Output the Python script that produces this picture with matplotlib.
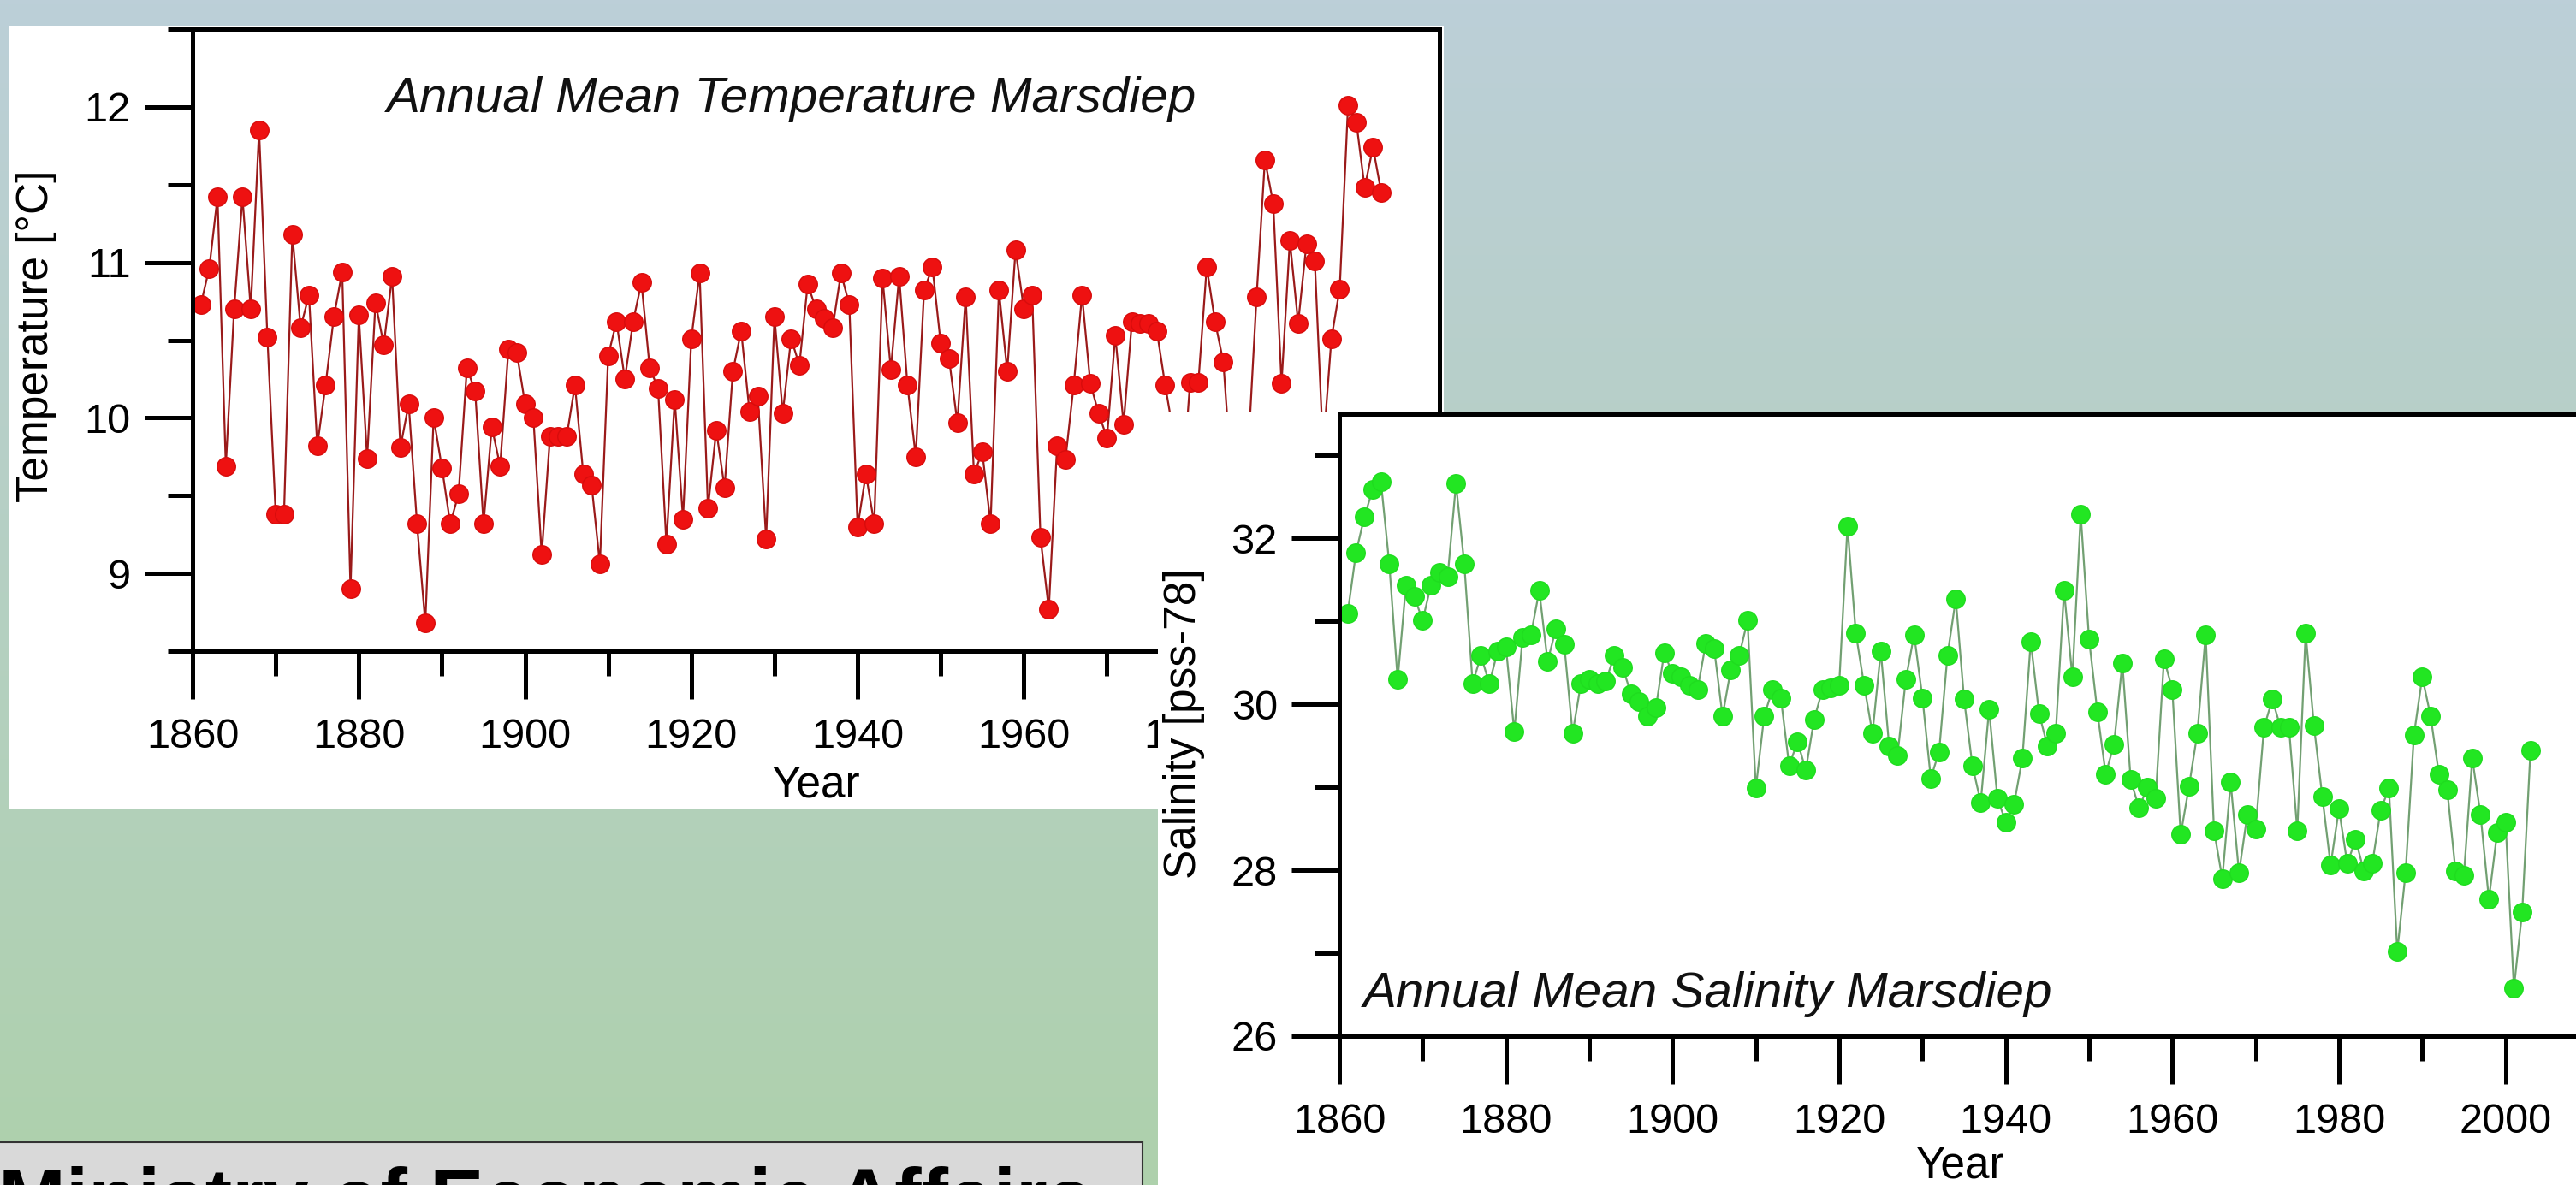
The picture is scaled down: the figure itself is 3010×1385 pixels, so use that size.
import numpy as np
import matplotlib
matplotlib.use("Agg")
import matplotlib.pyplot as plt
from matplotlib import font_manager
from matplotlib.ticker import MultipleLocator

installed = {f.name for f in font_manager.fontManager.ttflist}
NARROW = "Liberation Sans Narrow" if "Liberation Sans Narrow" in installed else "Liberation Sans"
plt.rcParams["font.family"] = ["Liberation Sans", "DejaVu Sans"]

# annual means, 1861-2003
years = np.arange(1861, 2004)

temperature = [
    10.73, 10.96, 11.42, 9.69, 10.70, 11.42, 10.70, 11.85, 10.52, 9.38,
    9.38, 11.18, 10.58, 10.79, 9.82, 10.21, 10.65, 10.94, 8.90, 10.66,
    9.74, 10.74, 10.47, 10.91, 9.81, 10.09, 9.32, 8.68, 10.00, 9.68,
    9.32, 9.51, 10.32, 10.17, 9.32, 9.94, 9.69, 10.44, 10.42, 10.09,
    10.00, 9.12, 9.88, 9.88, 9.88, 10.21, 9.64, 9.57, 9.06, 10.40,
    10.62, 10.25, 10.62, 10.87, 10.32, 10.19, 9.19, 10.12, 9.35, 10.51,
    10.93, 9.42, 9.92, 9.55, 10.30, 10.56, 10.04, 10.14, 9.22, 10.65,
    10.03, 10.51, 10.34, 10.86, 10.70, 10.64, 10.58, 10.93, 10.73, 9.30,
    9.64, 9.32, 10.90, 10.31, 10.91, 10.21, 9.75, 10.82, 10.97, 10.48,
    10.38, 9.97, 10.78, 9.64, 9.78, 9.32, 10.82, 10.30, 11.08, 10.70,
    10.79, 9.23, 8.77, 9.82, 9.73, 10.21, 10.79, 10.22, 10.03, 9.87,
    10.53, 9.96, 10.62, 10.61, 10.61, 10.56, 10.21, 9.90, 9.50, 10.23,
    10.23, 10.97, 10.62, 10.36, 9.60, 9.70, 9.80, 10.78, 11.66, 11.38,
    10.22, 11.14, 10.61, 11.12, 11.01, 9.80, 10.51, 10.83, 12.01, 11.90,
    11.48, 11.74, 11.45,
]

salinity = [
    31.10, 31.83, 32.26, 32.59, 32.68, 31.69, 30.30, 31.44, 31.30, 31.01,
    31.44, 31.59, 31.54, 32.66, 31.69, 30.25, 30.59, 30.25, 30.64, 30.69,
    29.67, 30.81, 30.84, 31.37, 30.52, 30.91, 30.72, 29.65, 30.25, 30.30,
    30.25, 30.28, 30.59, 30.45, 30.13, 30.03, 29.86, 29.96, 30.62, 30.37,
    30.33, 30.23, 30.18, 30.74, 30.67, 29.86, 30.42, 30.59, 31.01, 28.99,
    29.86, 30.18, 30.08, 29.26, 29.55, 29.21, 29.82, 30.18, 30.20, 30.23,
    32.15, 30.86, 30.23, 29.65, 30.64, 29.50, 29.38, 30.30, 30.84, 30.08,
    29.11, 29.43, 30.59, 31.27, 30.06, 29.26, 28.82, 29.94, 28.87, 28.58,
    28.80, 29.35, 30.76, 29.89, 29.50, 29.65, 31.37, 30.33, 32.29, 30.79,
    29.91, 29.16, 29.52, 30.50, 29.09, 28.75, 29.00, 28.87, 30.55, 30.18,
    28.43, 29.01, 29.65, 30.84, 28.48, 27.90, 29.06, 27.97, 28.67, 28.50,
    29.72, 30.06, 29.72, 29.72, 28.48, 30.86, 29.74, 28.89, 28.06, 28.74,
    28.08, 28.37, 27.99, 28.08, 28.72, 28.99, 27.02, 27.97, 29.63, 30.33,
    29.86, 29.16, 28.97, 27.99, 27.94, 29.35, 28.67, 27.65, 28.46, 28.58,
    26.58, 27.50, 29.45,
]

W, H = 3010, 1385


def px_rect(left, top, right, bottom):
    # pixel box of the picture -> figure fraction rect
    return [left / W, 1 - bottom / H, (right - left) / W, (bottom - top) / H]


def style_axes(ax):
    for s in ax.spines.values():
        s.set_linewidth(3.6)
        s.set_color("black")
    ax.tick_params(which="both", direction="out", width=3.6, colors="black",
                   labelfontfamily=NARROW)
    ax.tick_params(which="major", length=40, labelsize=35)
    ax.tick_params(which="minor", length=21)
    ax.tick_params(axis="x", which="major", pad=16)
    ax.tick_params(axis="y", which="major", pad=12)


fig = plt.figure(figsize=(W / 100, H / 100), dpi=100)

# background gradient
bg = fig.add_axes([0, 0, 1, 1])
bg.set_zorder(0)
t = np.linspace(0, 1, 256)[:, None, None]
top_c = np.array([188, 207, 216]) / 255
bot_c = np.array([174, 209, 172]) / 255
bg.imshow(top_c * (1 - t) + bot_c * t, aspect="auto", extent=[0, 1, 0, 1])
bg.axis("off")

# temperature panel
panel_t = fig.add_axes(px_rect(11, 30, 1687, 946))
panel_t.set_zorder(1)
panel_t.set_facecolor("white")
panel_t.set_xticks([])
panel_t.set_yticks([])
for s in panel_t.spines.values():
    s.set_visible(False)

ax_t = fig.add_axes(px_rect(225, 34, 1682, 761))
ax_t.set_zorder(2)
ax_t.set_facecolor("none")
ax_t.plot(years, temperature, color="#9a1a1a", lw=1.6, marker="o", ms=15.5,
          mfc="#ee1111", mec="#d80c0c")
ax_t.set_xlim(1860, 2010)
ax_t.set_ylim(8.5, 12.5)
ax_t.xaxis.set_major_locator(MultipleLocator(20))
ax_t.xaxis.set_minor_locator(MultipleLocator(10))
ax_t.yaxis.set_major_locator(MultipleLocator(1))
ax_t.yaxis.set_minor_locator(MultipleLocator(0.5))
style_axes(ax_t)
ax_t.set_xlabel("Year", fontsize=37, va="center")
ax_t.xaxis.set_label_coords(0.5, -0.216)
ax_t.set_ylabel("Temperature [°C]", fontsize=37, va="center")
ax_t.yaxis.set_label_coords(-0.125, 0.507)
ax_t.text(0.156, 0.866, "Annual Mean Temperature Marsdiep", transform=ax_t.transAxes,
          fontsize=42, style="italic", color="#111111", ha="left", va="baseline")

# salinity panel
panel_s = fig.add_axes(px_rect(1353, 481, 3040, 1400))
panel_s.set_zorder(3)
panel_s.set_facecolor("white")
panel_s.set_xticks([])
panel_s.set_yticks([])
for s in panel_s.spines.values():
    s.set_visible(False)

ax_s = fig.add_axes(px_rect(1565, 484, 3025, 1211))
ax_s.set_zorder(4)
ax_s.set_facecolor("none")
ax_s.plot(years, salinity, color="#72a072", lw=1.6, marker="o", ms=15.5,
          mfc="#22e622", mec="#1fdc1f")
ax_s.set_xlim(1860, 2010)
ax_s.set_ylim(26, 33.5)
ax_s.xaxis.set_major_locator(MultipleLocator(20))
ax_s.xaxis.set_minor_locator(MultipleLocator(10))
ax_s.yaxis.set_major_locator(MultipleLocator(2))
ax_s.yaxis.set_minor_locator(MultipleLocator(1))
style_axes(ax_s)
ax_s.set_xlabel("Year", fontsize=37, va="center")
ax_s.xaxis.set_label_coords(0.497, -0.209)
ax_s.set_ylabel("Salinity [pss-78]", fontsize=37, va="center")
ax_s.yaxis.set_label_coords(-0.124, 0.503)
ax_s.text(0.019, 0.047, "Annual Mean Salinity Marsdiep", transform=ax_s.transAxes,
          fontsize=42, style="italic", color="#111111", ha="left", va="baseline")

# ministry banner, cut by the bottom edge
banner = fig.add_axes(px_rect(-10, 1335, 1335, 1420))
banner.set_zorder(5)
banner.set_facecolor("#d9d9d9")
banner.set_xticks([])
banner.set_yticks([])
for s in banner.spines.values():
    s.set_linewidth(1.5)
    s.set_color("#333333")
fig.text(-2 / W, 1 - 1363 / H, "Ministry of Economic Affairs", fontsize=68,
         fontweight="bold", color="black", ha="left", va="top", zorder=6)

fig.savefig("out.png", dpi=100)
